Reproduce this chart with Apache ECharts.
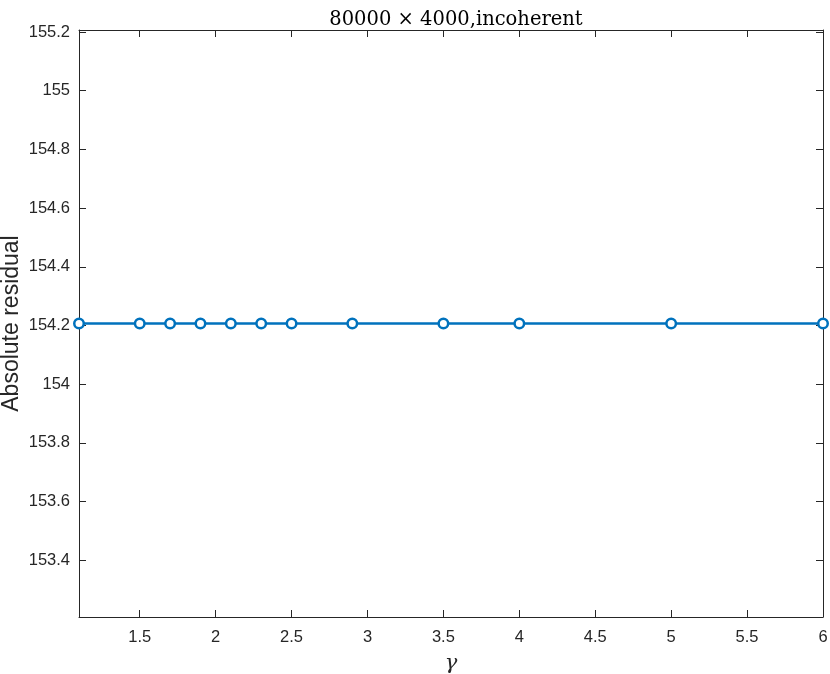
<!DOCTYPE html>
<html>
<head>
<meta charset="utf-8">
<script src="https://cdn.jsdelivr.net/npm/echarts@6/dist/echarts.min.js"></script>
<style>
  html, body { margin: 0; padding: 0; background: #fff; }
  #main { width: 830px; height: 674px; }
</style>
</head>
<body>
<div id="main"></div>
<script>
// gamma values and the (constant) residual
const gammaValues = [1.1, 1.5, 1.7, 1.9, 2.1, 2.3, 2.5, 2.9, 3.5, 4, 5, 6];
const residualValues = [154.2069, 154.2069, 154.2069, 154.2069, 154.2069, 154.2069,
  154.2069, 154.2069, 154.2069, 154.2069, 154.2069, 154.2069];
const xTicks = [1.5, 2, 2.5, 3, 3.5, 4, 4.5, 5, 5.5, 6];
const yTicks = [153.4, 153.6, 153.8, 154, 154.2, 154.4, 154.6, 154.8, 155, 155.2];

const xMin = 1.1, xMax = 6;
const yMin = 153.2069, yMax = 155.2069;

const axisColor = "#262626";
const lineColor = "#0072BD";

let chart = echarts.init(document.getElementById("main"));

const baseAxis = {
  type: "value",
  axisLine: { show: true, onZero: false, lineStyle: { color: axisColor, width: 1 } },
  axisTick: { show: true, inside: true, length: 7, lineStyle: { color: axisColor } },
  splitLine: { show: false },
};

const option = {
  animation: false,
  title: {
    text: "80000 × 4000,incoherent",
    left: 451,
    textAlign: "center",
    top: 5,
    textStyle: {
      fontFamily: "DejaVu Serif, Liberation Serif, serif",
      fontWeight: "normal",
      fontSize: 19.5,
      color: "#000",
    },
  },
  grid: { left: 79, right: 7, top: 30, bottom: 57, containLabel: false, outerBoundsMode: "none" },
  xAxis: [
    Object.assign({}, baseAxis, {
      min: xMin,
      max: xMax,
      position: "bottom",
      name: "γ",
      nameLocation: "middle",
      nameGap: 36,
      nameMoveOverlap: false,
      nameTextStyle: {
        fontFamily: "DejaVu Serif, serif",
        fontStyle: "italic",
        fontSize: 21,
        color: axisColor,
      },
      axisTick: Object.assign({}, baseAxis.axisTick, { customValues: xTicks }),
      axisLabel: {
        customValues: xTicks,
        margin: 12,
        fontFamily: "Liberation Sans, Arial, sans-serif",
        fontSize: 16.5,
        color: axisColor,
      },
    }),
    Object.assign({}, baseAxis, {
      min: xMin,
      max: xMax,
      position: "top",
      axisTick: Object.assign({}, baseAxis.axisTick, { customValues: xTicks }),
      axisLabel: { show: false },
    }),
  ],
  yAxis: [
    Object.assign({}, baseAxis, {
      min: yMin,
      max: yMax,
      position: "left",
      name: "Absolute residual",
      nameLocation: "middle",
      nameGap: 56,
      nameMoveOverlap: false,
      nameTextStyle: {
        fontFamily: "Liberation Sans, Arial, sans-serif",
        fontSize: 23,
        color: axisColor,
      },
      axisTick: Object.assign({}, baseAxis.axisTick, { customValues: yTicks }),
      axisLabel: {
        customValues: yTicks,
        margin: 9,
        fontFamily: "Liberation Sans, Arial, sans-serif",
        fontSize: 16.5,
        color: axisColor,
        formatter: (v) => String(Math.round(v * 10) / 10),
      },
    }),
    Object.assign({}, baseAxis, {
      min: yMin,
      max: yMax,
      position: "right",
      axisTick: Object.assign({}, baseAxis.axisTick, { customValues: yTicks }),
      axisLabel: { show: false },
    }),
  ],
  series: [
    {
      type: "line",
      data: gammaValues.map((g, i) => [g, residualValues[i]]),
      symbol: "circle",
      symbolSize: 9.5,
      showAllSymbol: true,
      lineStyle: { color: lineColor, width: 2.5 },
      itemStyle: { color: "#fff", borderColor: lineColor, borderWidth: 2.5 },
      clip: false,
    },
  ],
};

chart.setOption(option);
</script>
</body>
</html>
